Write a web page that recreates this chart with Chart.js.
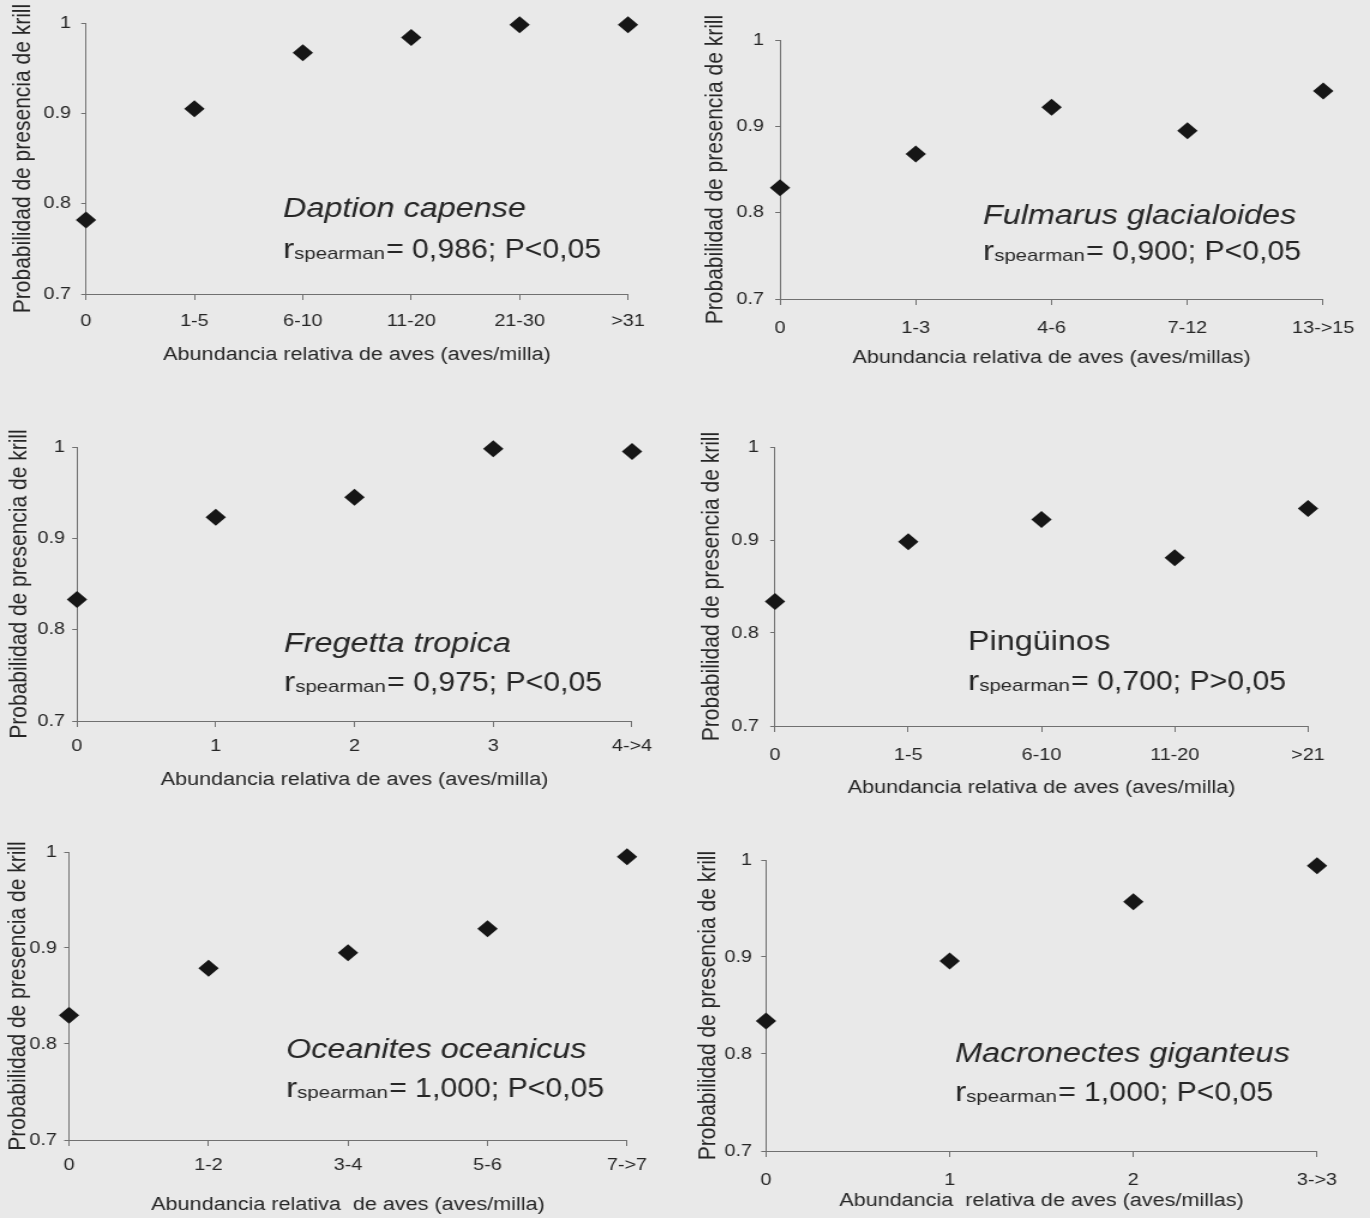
<!DOCTYPE html>
<html>
<head>
<meta charset="utf-8">
<script src="https://cdn.jsdelivr.net/npm/chart.js@4.4.0/dist/chart.umd.min.js"></script>
<style>
  html, body { margin: 0; padding: 0; background: #e9e9e9; }
  #page { position: relative; width: 1370px; height: 1218px; overflow: hidden; }
  #page canvas { position: absolute; }
</style>
</head>
<body>
<div id="page"></div>
<script>
// ---- data ----
const probTicks = [0.7, 0.8, 0.9, 1];

const daptionCats = ['0', '1-5', '6-10', '11-20', '21-30', '>31'];
const daptionProb = [0.782, 0.905, 0.967, 0.984, 0.998, 0.998];

const fulmarusCats = ['0', '1-3', '4-6', '7-12', '13->15'];
const fulmarusProb = [0.829, 0.868, 0.922, 0.895, 0.941];

const fregettaCats = ['0', '1', '2', '3', '4->4'];
const fregettaProb = [0.833, 0.923, 0.945, 0.998, 0.995];

const pinguinosCats = ['0', '1-5', '6-10', '11-20', '>21'];
const pinguinosProb = [0.834, 0.898, 0.922, 0.881, 0.934];

const oceanitesCats = ['0', '1-2', '3-4', '5-6', '7->7'];
const oceanitesProb = [0.830, 0.879, 0.895, 0.920, 0.995];

const macronectesCats = ['0', '1', '2', '3->3'];
const macronectesProb = [0.834, 0.896, 0.957, 0.994];

const species = ['Daption capense', 'Fulmarus glacialoides', 'Fregetta tropica',
                 'Pingüinos', 'Oceanites oceanicus', 'Macronectes giganteus'];
const italicName = [true, true, true, false, true, true];
const rSpearman = ['0,986', '0,900', '0,975', '0,700', '1,000', '1,000'];
const pValue = ['P<0,05', 'P<0,05', 'P<0,05', 'P>0,05', 'P<0,05', 'P<0,05'];

const yTitle = 'Probabilidad de presencia de krill';
const xTitles = [
  'Abundancia relativa de aves (aves/milla)',
  'Abundancia relativa de aves (aves/millas)',
  'Abundancia relativa de aves (aves/milla)',
  'Abundancia relativa de aves (aves/milla)',
  'Abundancia relativa  de aves (aves/milla)',
  'Abundancia  relativa de aves (aves/millas)'
];

const cats = [daptionCats, fulmarusCats, fregettaCats, pinguinosCats, oceanitesCats, macronectesCats];
const probs = [daptionProb, fulmarusProb, fregettaProb, pinguinosProb, oceanitesProb, macronectesProb];

// ---- page layout (page pixels) ----
// the scanned figure is stretched sideways, so each canvas is too
const SX = 1.2;
const FONT = "'Liberation Sans', Arial, sans-serif";
const TEXT = '#262626';
const AXIS = '#707070';

const layout = [
  { box: [0, 0, 680, 378],     area: [86, 628, 23, 294],    xLabelY: 321,  yGap: 15, xTitleY: 355,  yTitleX: 23,  note: [283, 217, 258] },
  { box: [690, 0, 680, 378],   area: [780, 1325, 40, 299],  xLabelY: 328,  yGap: 16, xTitleY: 358,  yTitleX: 716, note: [983, 224, 260] },
  { box: [0, 400, 680, 405],   area: [77, 632, 447, 721],   xLabelY: 746,  yGap: 12, xTitleY: 780,  yTitleX: 19,  note: [284, 652, 691] },
  { box: [690, 400, 680, 405], area: [775, 1308, 447, 726], xLabelY: 755,  yGap: 16, xTitleY: 788,  yTitleX: 712, note: [968, 650, 690] },
  { box: [0, 815, 680, 403],   area: [69, 627, 852, 1140],  xLabelY: 1165, yGap: 12, xTitleY: 1205, yTitleX: 18,  note: [286, 1058, 1097] },
  { box: [690, 815, 680, 403], area: [766, 1317, 860, 1151], xLabelY: 1180, yGap: 14, xTitleY: 1201, yTitleX: 708, note: [955, 1062, 1101] }
];

// species name + spearman line inside the plot
const speciesNote = {
  id: 'speciesNote',
  afterDraw(chart, args, o) {
    const ctx = chart.ctx;
    ctx.save();
    ctx.fillStyle = TEXT;
    ctx.textAlign = 'left';
    ctx.textBaseline = 'alphabetic';
    ctx.font = (o.italic ? 'italic ' : '') + '27px ' + FONT;
    ctx.fillText(o.name, o.x, o.titleY);
    let x = o.x;
    ctx.font = '28px ' + FONT;
    ctx.fillText('r', x, o.rY);
    x += ctx.measureText('r').width;
    ctx.font = '17px ' + FONT;
    ctx.fillText('spearman', x, o.rY + 1);
    x += ctx.measureText('spearman').width + 1;
    // the value part is set in a condensed face in the original
    ctx.font = '28px ' + FONT;
    ctx.translate(x, o.rY);
    ctx.scale(0.9, 1);
    ctx.fillText('= ' + o.r + '; ' + o.p, 0, 0);
    ctx.restore();
  }
};

function buildChart(i) {
  const L = layout[i];
  const [bx, by, bw, bh] = L.box;
  const [al, ar, at, ab] = L.area;

  const canvas = document.createElement('canvas');
  canvas.width = Math.round(bw / SX);
  canvas.height = bh;
  const sx = bw / canvas.width;
  canvas.style.left = bx + 'px';
  canvas.style.top = by + 'px';
  canvas.style.width = bw + 'px';
  canvas.style.height = bh + 'px';
  document.getElementById('page').appendChild(canvas);

  const tickFont = { family: FONT, size: 16.5 };
  const xTitleFont = { family: FONT, size: 18 };
  const yTitleFont = { family: FONT, size: 21 };
  const xTickLen = 6, yTickLen = 4;

  const yWidth = (al - bx) / sx;
  const xHeight = by + bh - ab;

  new Chart(canvas, {
    type: 'line',
    data: {
      labels: cats[i],
      datasets: [{
        data: probs[i],
        showLine: false,
        pointStyle: 'rectRot',
        pointRadius: 8.5,
        pointBorderWidth: 0,
        backgroundColor: '#161616',
        borderColor: '#161616',
        clip: false
      }]
    },
    options: {
      responsive: false,
      devicePixelRatio: 1,
      animation: false,
      events: [],
      layout: {
        autoPadding: false,
        padding: { left: 0, bottom: 0, top: at - by, right: (bx + bw - ar) / sx }
      },
      plugins: {
        legend: { display: false },
        tooltip: { enabled: false },
        speciesNote: {
          name: species[i], italic: italicName[i], r: rSpearman[i], p: pValue[i],
          x: (L.note[0] - bx) / sx, titleY: L.note[1] - by, rY: L.note[2] - by
        }
      },
      scales: {
        x: {
          type: 'category',
          offset: false,
          afterFit: s => { s.height = xHeight; },
          border: { display: true, color: AXIS, width: 1 },
          grid: { drawOnChartArea: false, drawTicks: true, tickLength: xTickLen, color: AXIS },
          ticks: {
            autoSkip: false, maxRotation: 0, font: tickFont, color: TEXT,
            padding: (L.xLabelY - ab) - xTickLen - tickFont.size * 0.6
          },
          title: {
            display: true, text: xTitles[i], font: xTitleFont, color: TEXT,
            padding: { top: 0, bottom: (by + bh - L.xTitleY) - xTitleFont.size * 0.6 }
          }
        },
        y: {
          min: probTicks[0],
          max: probTicks[probTicks.length - 1],
          afterBuildTicks: s => { s.ticks = probTicks.map(v => ({ value: v })); },
          afterFit: s => { s.width = yWidth; },
          border: { display: true, color: AXIS, width: 1 },
          grid: { drawOnChartArea: false, drawTicks: true, tickLength: yTickLen, color: AXIS },
          ticks: {
            font: tickFont, color: TEXT,
            padding: L.yGap / sx - yTickLen,
            callback: v => (v === 1 ? '1' : v.toFixed(1))
          },
          title: {
            display: true, text: yTitle, font: yTitleFont, color: TEXT,
            padding: { top: (L.yTitleX - bx) / sx - yTitleFont.size * 0.6, bottom: 0 }
          }
        }
      }
    },
    plugins: [speciesNote]
  });
}

for (let i = 0; i < layout.length; i++) buildChart(i);
</script>
</body>
</html>
